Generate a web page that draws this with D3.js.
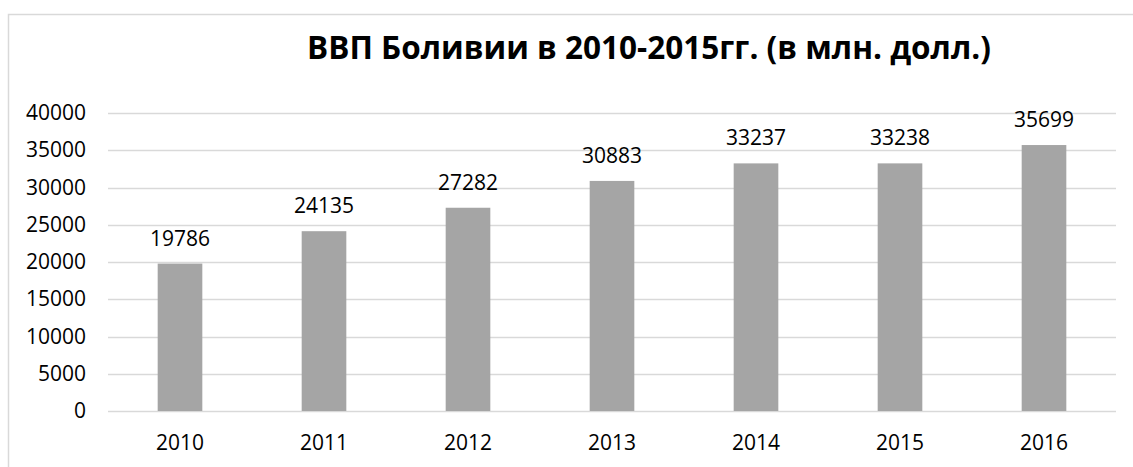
<!DOCTYPE html>
<html>
<head>
<meta charset="utf-8">
<script src="https://cdn.jsdelivr.net/npm/d3@7"></script>
<style>
  body { margin: 0; background: #fff; }
  text { font-family: "Open Sans", sans-serif; fill: #000; }
</style>
</head>
<body>
<div id="chart"></div>
<script>
const years = ["2010", "2011", "2012", "2013", "2014", "2015", "2016"];
const gdp = [19786, 24135, 27282, 30883, 33237, 33238, 35699];
const yTicks = [0, 5000, 10000, 15000, 20000, 25000, 30000, 35000, 40000];
const title = "ВВП Боливии в 2010-2015гг. (в млн. долл.)";

const svgWidth = 1133;
const svgHeight = 467;
const margin = { top: 113, right: 17, bottom: 56, left: 108 };
const chartWidth = svgWidth - margin.left - margin.right;
const chartHeight = svgHeight - margin.top - margin.bottom;

const svg = d3.select("#chart")
    .append("svg")
    .attr("width", svgWidth)
    .attr("height", svgHeight);

// chart area frame (only top and left edges are visible in the picture)
svg.append("rect")
    .attr("x", 8.5)
    .attr("y", 14.5)
    .attr("width", svgWidth)
    .attr("height", svgHeight)
    .attr("fill", "none")
    .attr("stroke", "#d9d9d9")
    .attr("stroke-width", 1.5);

const g = svg.append("g")
    .attr("transform", `translate(${margin.left}, ${margin.top})`);

const x = d3.scaleBand()
    .domain(years)
    .range([0, chartWidth])
    .padding(0);

const y = d3.scaleLinear()
    .domain([0, 40000])
    .range([chartHeight, 0]);

const barWidth = x.bandwidth() * 0.31;

// gridlines
g.append("g")
    .selectAll("line")
    .data(yTicks)
    .enter()
    .append("line")
    .attr("x1", 0)
    .attr("x2", chartWidth)
    .attr("y1", d => Math.round(y(d)) + 0.5)
    .attr("y2", d => Math.round(y(d)) + 0.5)
    .attr("stroke", "#d9d9d9")
    .attr("stroke-width", 1.3);

g.selectAll("rect.bar")
    .data(gdp)
    .enter()
    .append("rect")
    .attr("class", "bar")
    .attr("x", (d, i) => x(years[i]) + (x.bandwidth() - barWidth) / 2)
    .attr("y", d => y(d))
    .attr("width", barWidth)
    .attr("height", d => chartHeight - y(d))
    .attr("fill", "#a5a5a5");

g.selectAll("text.value")
    .data(gdp)
    .enter()
    .append("text")
    .attr("class", "value")
    .attr("x", (d, i) => x(years[i]) + x.bandwidth() / 2)
    .attr("y", d => y(d) - 18)
    .attr("text-anchor", "middle")
    .style("font-size", "21px")
    .text(d => d);

// y axis labels
const yAxis = g.append("g")
    .call(d3.axisLeft(y).tickValues(yTicks).tickSize(0).tickPadding(22).tickFormat(d => d));
yAxis.select(".domain").remove();
yAxis.selectAll("text")
    .style("font-size", "21px")
    .style("font-family", "'Open Sans', sans-serif");

// x axis labels
const xAxis = g.append("g")
    .attr("transform", `translate(0, ${chartHeight})`)
    .call(d3.axisBottom(x).tickSize(0).tickPadding(24));
xAxis.select(".domain").remove();
xAxis.selectAll("text")
    .style("font-size", "21px")
    .style("font-family", "'Open Sans', sans-serif");

svg.append("text")
    .attr("x", 649)
    .attr("y", 59)
    .attr("text-anchor", "middle")
    .style("font-size", "31.5px")
    .style("font-weight", "bold")
    .text(title);
</script>
</body>
</html>
